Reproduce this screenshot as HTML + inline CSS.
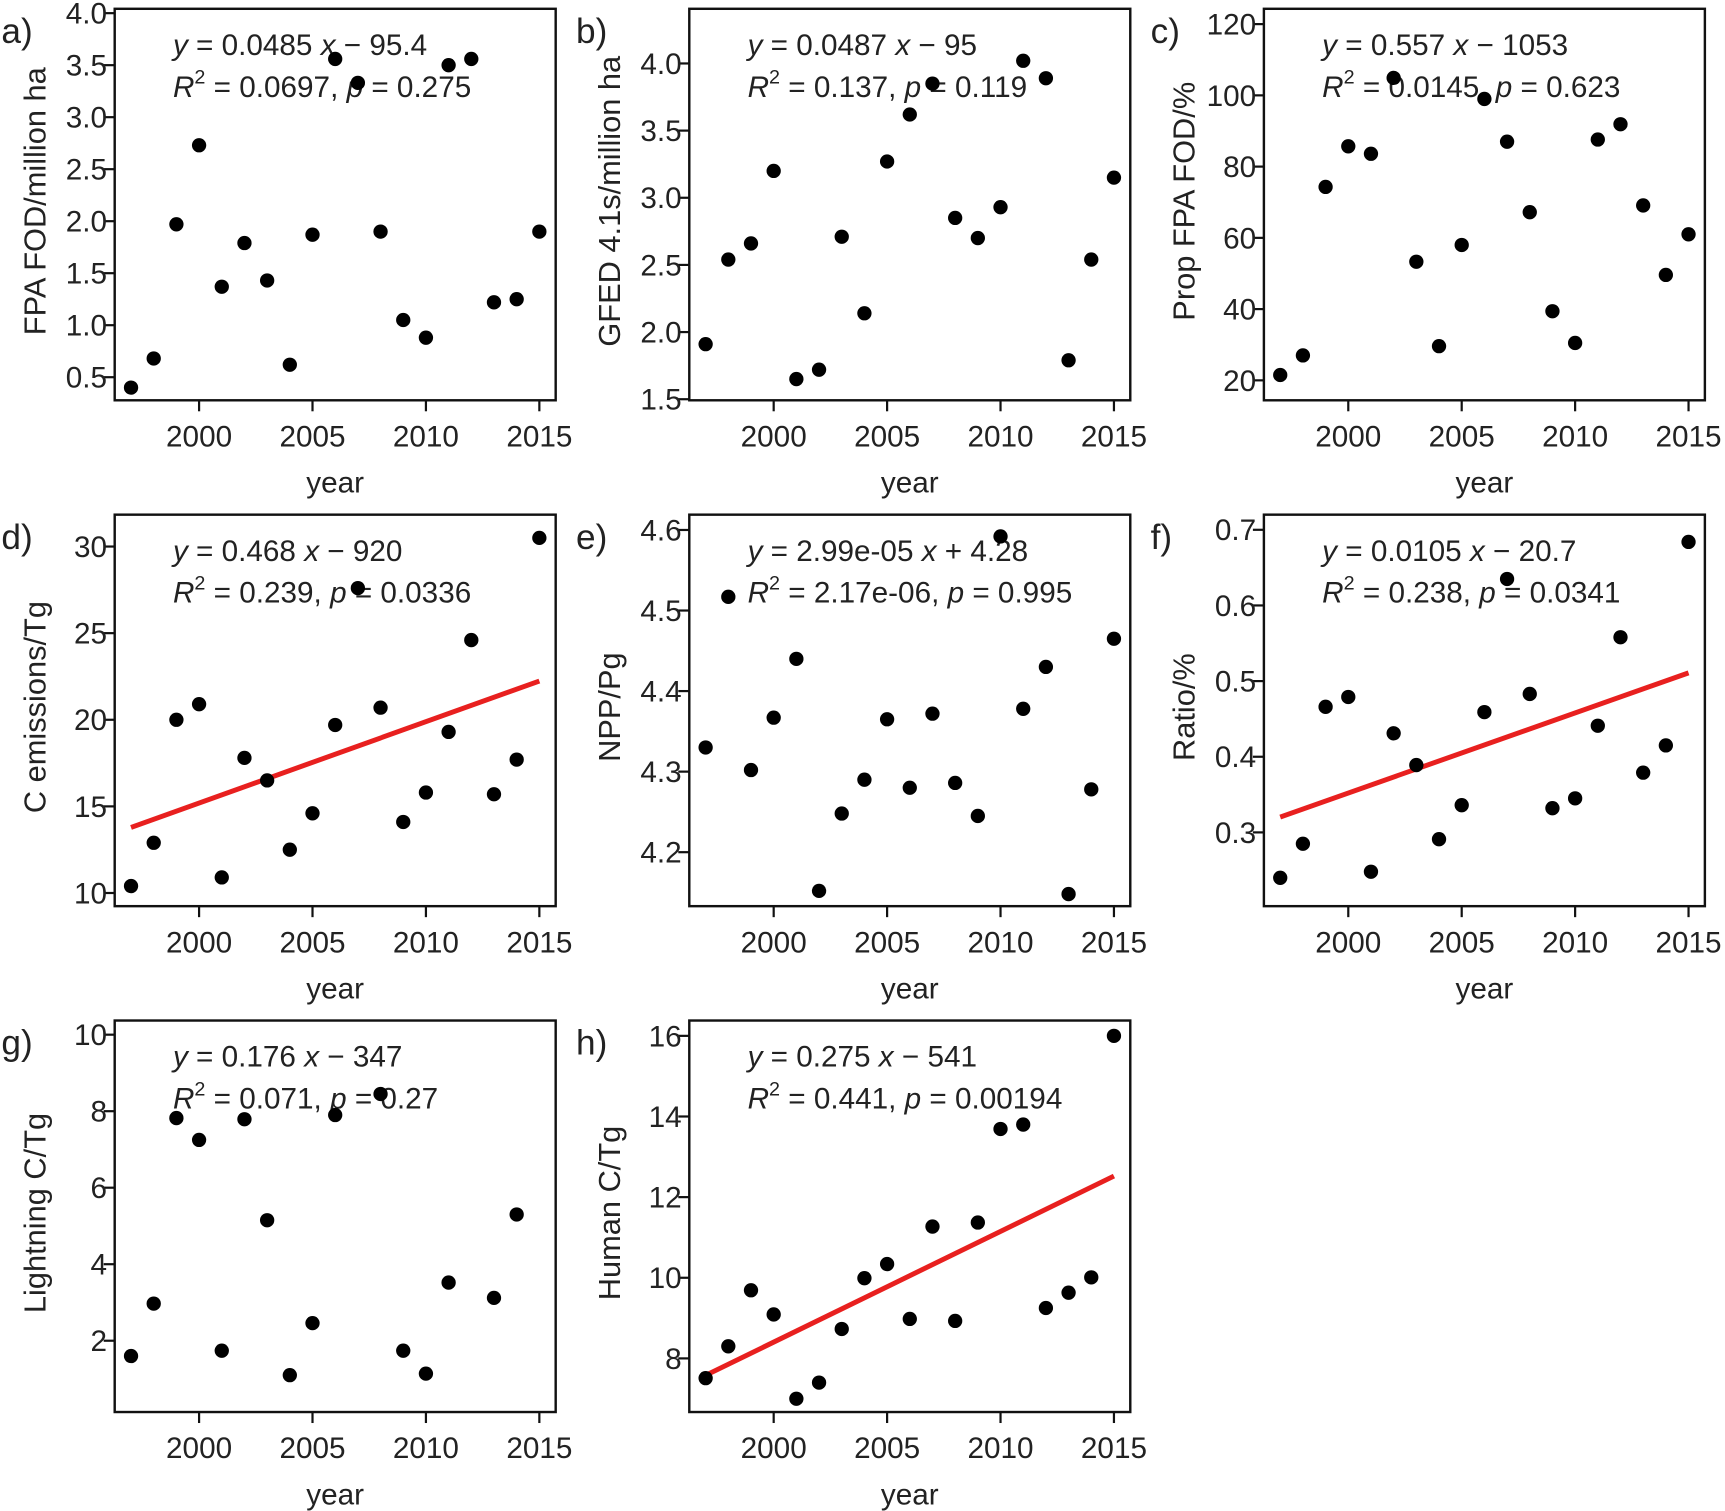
<!DOCTYPE html>
<html><head><meta charset="utf-8"><style>
html,body{margin:0;padding:0;background:#fff;}
svg{display:block;}
text{font-family:"Liberation Sans",sans-serif;fill:#222;}
</style></head><body>
<svg id="fig" width="1725" height="1511" viewBox="0 0 1568 1374" xmlns="http://www.w3.org/2000/svg"></svg>
<script>
const years = [1997,1998,1999,2000,2001,2002,2003,2004,2005,2006,2007,2008,2009,2010,2011,2012,2013,2014,2015];
const seriesA = [0.4,0.68,1.97,2.73,1.37,1.79,1.43,0.62,1.87,3.56,3.33,1.9,1.05,0.88,3.5,3.56,1.22,1.25,1.9];
const seriesB = [1.91,2.54,2.66,3.2,1.65,1.72,2.71,2.14,3.27,3.62,3.85,2.85,2.7,2.93,4.02,3.89,1.79,2.54,3.15];
const seriesC = [21.5,27,74.3,85.7,83.6,104.9,53.3,29.6,58,99,87,67.2,39.4,30.5,87.6,91.9,69.1,49.6,61];
const seriesD = [10.4,12.9,20.0,20.9,10.9,17.8,16.5,12.5,14.6,19.7,27.6,20.7,14.1,15.8,19.3,24.6,15.7,17.7,30.5];
const seriesE = [4.33,4.517,4.302,4.367,4.44,4.152,4.248,4.29,4.365,4.28,4.372,4.286,4.245,4.592,4.378,4.43,4.148,4.278,4.465];
const seriesF = [0.24,0.285,0.466,0.479,0.248,0.431,0.389,0.291,0.336,0.459,0.635,0.483,0.332,0.345,0.441,0.558,0.379,0.415,0.684];
const seriesG = [1.6,2.97,7.82,7.25,1.74,7.79,5.15,1.1,2.46,7.9,null,8.45,1.74,1.14,3.52,null,3.12,5.3,null];
const seriesH = [7.51,8.3,9.69,9.09,7.0,7.4,8.73,9.99,10.34,8.98,11.27,8.93,11.37,13.69,13.8,9.25,9.63,10.01,16];
const xTicks = [2000,2005,2010,2015];
const ticksA = ["0.5","1.0","1.5","2.0","2.5","3.0","3.5","4.0"];
const ticksB = ["1.5","2.0","2.5","3.0","3.5","4.0"];
const ticksC = ["20","40","60","80","100","120"];
const ticksD = ["10","15","20","25","30"];
const ticksE = ["4.2","4.3","4.4","4.5","4.6"];
const ticksF = ["0.3","0.4","0.5","0.6","0.7"];
const ticksG = ["2","4","6","8","10"];
const ticksH = ["8","10","12","14","16"];

const panels = [
 {id:'a',col:0,row:0,data:seriesA,ticks:ticksA,ylim:[0.278,4.042],ylab:'FPA FOD/million ha',eq1:['0.0485','\u2212 95.4'],eq2:['0.0697,','0.275'],fit:false},
 {id:'b',col:1,row:0,data:seriesB,ticks:ticksB,ylim:[1.492,4.407],ylab:'GFED 4.1s/million ha',eq1:['0.0487','\u2212 95'],eq2:['0.137,','0.119'],fit:false},
 {id:'c',col:2,row:0,data:seriesC,ticks:ticksC,ylim:[14.4,124.3],ylab:'Prop FPA FOD/%',eq1:['0.557','\u2212 1053'],eq2:['0.0145,','0.623'],fit:false},
 {id:'d',col:0,row:1,data:seriesD,ticks:ticksD,ylim:[9.24,31.84],ylab:'C emissions/Tg',eq1:['0.468','\u2212 920'],eq2:['0.239,','0.0336'],fit:true},
 {id:'e',col:1,row:1,data:seriesE,ticks:ticksE,ylim:[4.133,4.619],ylab:'NPP/Pg',eq1:['2.99e-05','+ 4.28'],eq2:['2.17e-06,','0.995'],fit:false},
 {id:'f',col:2,row:1,data:seriesF,ticks:ticksF,ylim:[0.2025,0.720],ylab:'Ratio/%',eq1:['0.0105','\u2212 20.7'],eq2:['0.238,','0.0341'],fit:true},
 {id:'g',col:0,row:2,data:seriesG,ticks:ticksG,ylim:[0.136,10.37],ylab:'Lightning C/Tg',eq1:['0.176','\u2212 347'],eq2:['0.071,','0.27'],fit:false},
 {id:'h',col:1,row:2,data:seriesH,ticks:ticksH,ylim:[6.67,16.38],ylab:'Human C/Tg',eq1:['0.275','\u2212 541'],eq2:['0.441,','0.00194'],fit:true}
];

const NS='http://www.w3.org/2000/svg';
const svg=document.getElementById('fig');
function el(tag,attrs,parent){const e=document.createElementNS(NS,tag);for(const k in attrs)e.setAttribute(k,attrs[k]);(parent||svg).appendChild(e);return e;}
const BW=401,BH=356,X0=104,Y0=8,DX=522.5,DY=460;
const xmin=1996.28,xmax=2015.72;

panels.forEach(p=>{
  const bx=X0+p.col*DX, by=Y0+p.row*DY;
  const g=el('g',{});
  
  
  const xs=v=>bx+(v-xmin)/(xmax-xmin)*BW;
  const ys=v=>by+BH-(v-p.ylim[0])/(p.ylim[1]-p.ylim[0])*BH;
  const box=el('rect',{x:bx,y:by,width:BW,height:BH,fill:'none',stroke:'#111','stroke-width':2.2},g);
  
  
  p.ticks.forEach(t=>{
    const v=parseFloat(t), y=ys(v);
    el('line',{x1:bx-10,x2:bx,y1:y,y2:y,stroke:'#111','stroke-width':2},g);
    const tx=el('text',{x:bx-7,y:y+9.5,'text-anchor':'end','font-size':27},g);
    tx.textContent=t;
    
    
  });
  xTicks.forEach(t=>{
    const x=xs(t);
    el('line',{x1:x,x2:x,y1:by+BH,y2:by+BH+10,stroke:'#111','stroke-width':2},g);
    const tx=el('text',{x:x,y:by+BH+42,'text-anchor':'middle','font-size':27},g);
    tx.textContent=t;
    
    
  });
  const xt=el('text',{x:bx+BW/2,y:by+BH+84,'text-anchor':'middle','font-size':27},g);
  xt.textContent='year';
  
  
  const yl=el('text',{x:0,y:0,'text-anchor':'middle','font-size':28,transform:`translate(${bx-63},${by+BH/2-3}) rotate(-90)`},g);
  yl.textContent=p.ylab;
  
  
  const pl=el('text',{x:bx-103,y:by+31,'font-size':32},g);
  pl.textContent=p.id+')';
  
  
  const e1=el('text',{x:bx+53,y:by+42,'font-size':27},g);
  e1.innerHTML=`<tspan font-style="italic">y</tspan> = ${p.eq1[0]} <tspan font-style="italic">x</tspan> ${p.eq1[1]}`;
  
  
  const e2=el('text',{x:bx+53,y:by+80,'font-size':27,'xml:space':'preserve'},g);
  e2.innerHTML=`<tspan font-style="italic">R</tspan><tspan font-size="18" dy="-12">2</tspan><tspan dy="12"> = ${p.eq2[0]}  </tspan><tspan font-style="italic">p</tspan><tspan>  = ${p.eq2[1]}</tspan>`;
  
  
  if(p.fit){
    const xsV=[],ysV=[];
    years.forEach((yr,i)=>{if(p.data[i]!=null){xsV.push(yr);ysV.push(p.data[i]);}});
    const n=xsV.length, mx=xsV.reduce((a,b)=>a+b)/n, my=ysV.reduce((a,b)=>a+b)/n;
    let sxy=0,sxx=0; for(let i=0;i<n;i++){sxy+=(xsV[i]-mx)*(ysV[i]-my);sxx+=(xsV[i]-mx)**2;}
    const b=sxy/sxx, a=my-b*mx;
    const x1=years[0], x2=years[years.length-1];
    const ln=el('line',{x1:xs(x1),y1:ys(a+b*x1),x2:xs(x2),y2:ys(a+b*x2),stroke:'#e8201f','stroke-width':4.5},g);
    
    
  }
  years.forEach((yr,i)=>{
    const v=p.data[i]; if(v==null) return;
    const c=el('circle',{cx:xs(yr),cy:ys(v),r:6.5,fill:'#000'},g);
    
    
  });
});
</script>
</body></html>
